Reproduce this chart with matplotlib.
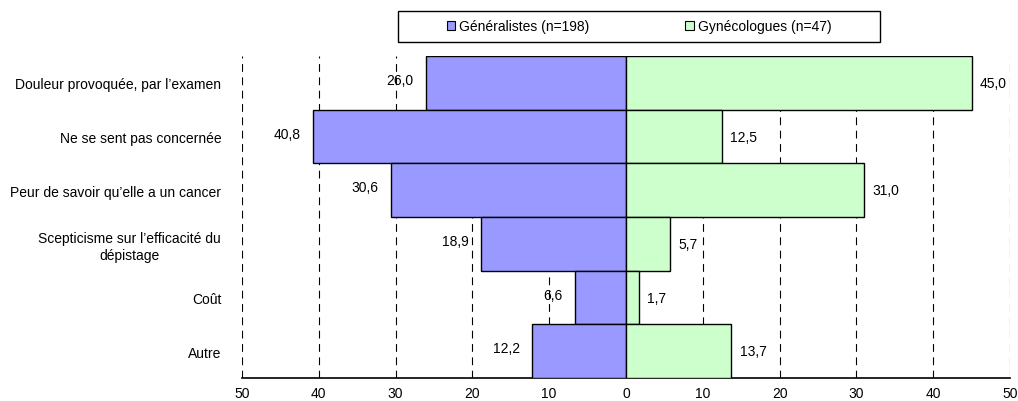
import matplotlib.pyplot as plt
import matplotlib.ticker as mticker
from matplotlib.patches import Patch, Rectangle
import numpy as np

plt.rcParams['font.family'] = ['Liberation Sans', 'DejaVu Sans']

# data
categories = ['Douleur provoquée, par l\u2019examen', 'Ne se sent pas concernée',
              'Peur de savoir qu\u2019elle a un cancer',
              'Scepticisme sur l\u2019efficacité du\ndépistage', 'Coût', 'Autre']
generalistes = [26.0, 40.8, 30.6, 18.9, 6.6, 12.2]
gynecologues = [45.0, 12.5, 31.0, 5.7, 1.7, 13.7]
series_names = ['Généralistes (n=198)', 'Gynécologues (n=47)']
col_gen = '#9999FF'
col_gyn = '#CCFFCC'

fig = plt.figure(figsize=(10.18, 4.02), dpi=100)
ax = fig.add_axes([0.2377, 0.0572, 0.7544, 0.8008])

ind = np.arange(len(categories))
ax.barh(ind, -np.array(generalistes), height=1.0, color=col_gen, edgecolor='black', linewidth=1, zorder=3)
ax.barh(ind, gynecologues, height=1.0, color=col_gyn, edgecolor='black', linewidth=1, zorder=3)

for i in range(len(categories)):
    ax.annotate(('%.1f' % generalistes[i]).replace('.', ','), (-generalistes[i], i),
                xytext=(-9, 2), textcoords='offset points', ha='right', va='center', fontsize=10, zorder=4)
    ax.annotate(('%.1f' % gynecologues[i]).replace('.', ','), (gynecologues[i], i),
                xytext=(6, 0), textcoords='offset points', ha='left', va='center', fontsize=10, zorder=4)

ax.set_xlim(-50, 50)
ax.set_ylim(len(categories) - 0.5, -0.5)
ax.set_xticks(np.arange(-50, 51, 10))
ax.xaxis.set_major_formatter(mticker.FuncFormatter(lambda v, p: '%d' % abs(v)))
ax.set_yticks(ind)
ax.set_yticklabels(categories)
for lab in ax.get_yticklabels():
    lab.set_multialignment('center')
ax.tick_params(axis='y', length=0, pad=15, labelsize=10)
ax.tick_params(axis='x', length=0, pad=6, labelsize=10)
ax.xaxis.grid(True, color='black', linestyle=(0, (7, 5)), linewidth=0.8, zorder=0)
for s in ['top', 'right', 'left']:
    ax.spines[s].set_visible(False)
ax.spines['bottom'].set_linewidth(1.2)

# legend box
fig.patches.append(Rectangle((398 / 1018, 1 - 43 / 402), 482 / 1018, 31 / 402, transform=fig.transFigure,
                             facecolor='white', edgecolor='black', linewidth=1, zorder=5))
handles = [Patch(facecolor=col_gen, edgecolor='black'), Patch(facecolor=col_gyn, edgecolor='black')]
leg = fig.legend(handles, series_names, loc='center', bbox_to_anchor=(0.6277, 0.9316), ncol=2,
                 fontsize=10, frameon=False,
                 handlelength=0.6, handleheight=0.6, handletextpad=0.3, columnspacing=6.9)
leg.set_zorder(10)
for h in leg.legend_handles:
    h.set_linewidth(0.8)

fig.savefig('out.png', dpi=100)
